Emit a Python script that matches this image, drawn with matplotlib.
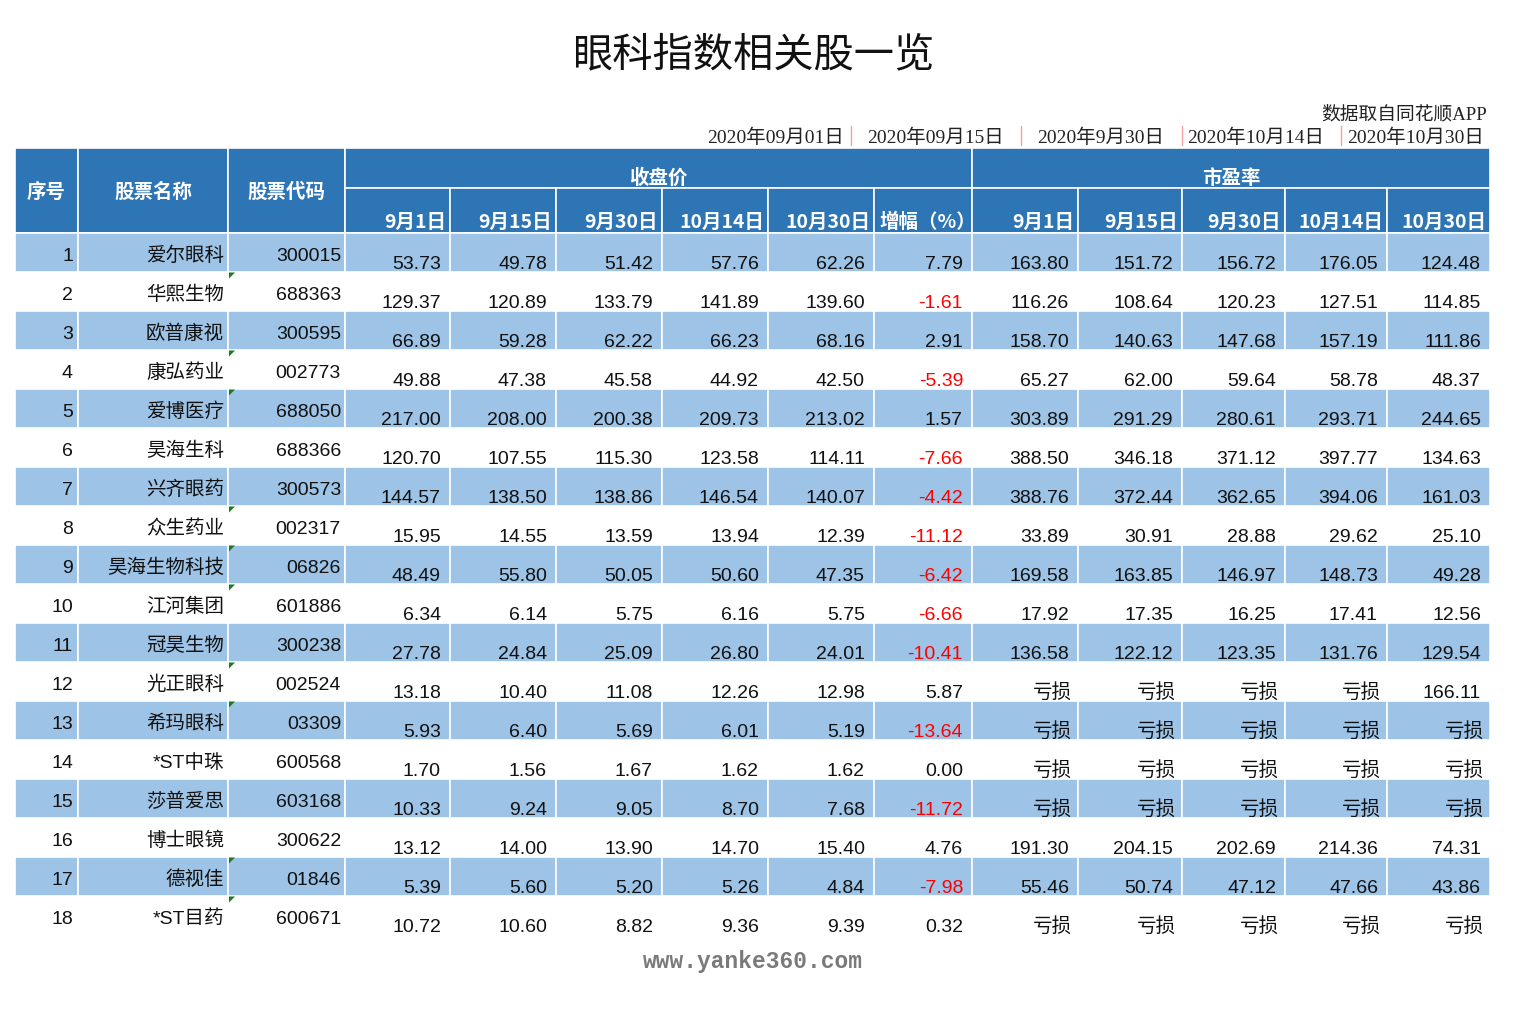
import matplotlib
matplotlib.use("Agg")
import matplotlib.pyplot as plt
from matplotlib.patches import Rectangle, Polygon

# ---- data ----
names = ['爱尔眼科', '华熙生物', '欧普康视', '康弘药业', '爱博医疗', '昊海生科',
         '兴齐眼药', '众生药业', '昊海生物科技', '江河集团', '冠昊生物', '光正眼科',
         '希玛眼科', '*ST中珠', '莎普爱思', '博士眼镜', '德视佳', '*ST目药']
codes = ['300015', '688363', '300595', '002773', '688050', '688366', '300573',
         '002317', '06826', '601886', '300238', '002524', '03309', '600568',
         '603168', '300622', '01846', '600671']

close_0901 = [53.73, 129.37, 66.89, 49.88, 217.00, 120.70, 144.57, 15.95, 48.49,
              6.34, 27.78, 13.18, 5.93, 1.70, 10.33, 13.12, 5.39, 10.72]
close_0915 = [49.78, 120.89, 59.28, 47.38, 208.00, 107.55, 138.50, 14.55, 55.80,
              6.14, 24.84, 10.40, 6.40, 1.56, 9.24, 14.00, 5.60, 10.60]
close_0930 = [51.42, 133.79, 62.22, 45.58, 200.38, 115.30, 138.86, 13.59, 50.05,
              5.75, 25.09, 11.08, 5.69, 1.67, 9.05, 13.90, 5.20, 8.82]
close_1014 = [57.76, 141.89, 66.23, 44.92, 209.73, 123.58, 146.54, 13.94, 50.60,
              6.16, 26.80, 12.26, 6.01, 1.62, 8.70, 14.70, 5.26, 9.36]
close_1030 = [62.26, 139.60, 68.16, 42.50, 213.02, 114.11, 140.07, 12.39, 47.35,
              5.75, 24.01, 12.98, 5.19, 1.62, 7.68, 15.40, 4.84, 9.39]
change_pct = [7.79, -1.61, 2.91, -5.39, 1.57, -7.66, -4.42, -11.12, -6.42,
              -6.66, -10.41, 5.87, -13.64, 0.00, -11.72, 4.76, -7.98, 0.32]

# None = 亏损 (loss)
pe_0901 = [163.80, 116.26, 158.70, 65.27, 303.89, 388.50, 388.76, 33.89, 169.58,
           17.92, 136.58, None, None, None, None, 191.30, 55.46, None]
pe_0915 = [151.72, 108.64, 140.63, 62.00, 291.29, 346.18, 372.44, 30.91, 163.85,
           17.35, 122.12, None, None, None, None, 204.15, 50.74, None]
pe_0930 = [156.72, 120.23, 147.68, 59.64, 280.61, 371.12, 362.65, 28.88, 146.97,
           16.25, 123.35, None, None, None, None, 202.69, 47.12, None]
pe_1014 = [176.05, 127.51, 157.19, 58.78, 293.71, 397.77, 394.06, 29.62, 148.73,
           17.41, 131.76, None, None, None, None, 214.36, 47.66, None]
pe_1030 = [124.48, 114.85, 111.86, 48.37, 244.65, 134.63, 161.03, 25.10, 49.28,
           12.56, 129.54, 166.11, None, None, None, 74.31, 43.86, None]

sub_headers = ['9月1日', '9月15日', '9月30日', '10月14日', '10月30日', '增幅（%）',
               '9月1日', '9月15日', '9月30日', '10月14日', '10月30日']
date_labels = ['2020年09月01日', '2020年09月15日', '2020年9月30日',
               '2020年10月14日', '2020年10月30日']
text_flag_rows = [2, 4, 5, 8, 9, 10, 12, 13, 17, 18]

# ---- style ----
HEAD = '#2E75B6'
STRIPE = '#9DC3E6'
TXT = '#111111'
NUM_FONT = ['Liberation Sans', 'Noto Sans CJK SC', 'DejaVu Sans']
CJK_FONT = ['Noto Sans CJK SC', 'DejaVu Sans']
SERIF_FONT = ['Liberation Serif', 'Noto Sans CJK SC', 'DejaVu Sans']

col_x = [15, 78, 228, 345, 450, 556, 662, 768, 874, 972, 1078, 1182, 1285, 1387, 1490]
head_top, head_mid, head_bot = 148, 188, 233
row_h = 39

fig = plt.figure(figsize=(15.13, 10.11), dpi=100)
ax = fig.add_axes([0, 0, 1, 1])
ax.set_xlim(0, 1513)
ax.set_ylim(1011, 0)
ax.axis('off')

# title and notes
ax.text(753, 66, '眼科指数相关股一览', ha='center', va='baseline', fontsize=29,
        family=CJK_FONT, color='#111111')
ax.text(1487, 119, '数据取自同花顺APP', ha='right', va='baseline', fontsize=13.5,
        family=SERIF_FONT, color='#222222')
date_mid = [776, 935, 1101, 1256, 1416]
for dx, lab in zip(date_mid, date_labels):
    ax.text(dx, 143, lab, ha='center', va='baseline', fontsize=14,
            family=SERIF_FONT, color='#222222')
for sx in [851, 1021, 1182, 1341]:
    ax.plot([sx, sx], [126, 145], color='#F2A0A0', lw=1)


def cell(x0, x1, y0, y1, fc):
    ax.add_patch(Rectangle((x0, y0), x1 - x0, y1 - y0, facecolor=fc,
                           edgecolor='white', lw=1.2))


# header
cell(col_x[0], col_x[1], head_top, head_bot, HEAD)
cell(col_x[1], col_x[2], head_top, head_bot, HEAD)
cell(col_x[2], col_x[3], head_top, head_bot, HEAD)
cell(col_x[3], col_x[9], head_top, head_mid, HEAD)
cell(col_x[9], col_x[14], head_top, head_mid, HEAD)
for j in range(3, 14):
    cell(col_x[j], col_x[j + 1], head_mid, head_bot, HEAD)

hkw = dict(color='white', fontsize=14, fontweight='bold', family=CJK_FONT, va='baseline')
for j, lab in enumerate(['序号', '股票名称', '股票代码']):
    ax.text((col_x[j] + col_x[j + 1]) / 2, 198, lab, ha='center', **hkw)
ax.text((col_x[3] + col_x[9]) / 2, 184, '收盘价', ha='center', **hkw)
ax.text((col_x[9] + col_x[14]) / 2, 184, '市盈率', ha='center', **hkw)
for j, lab in enumerate(sub_headers):
    if lab.startswith('增幅'):
        ax.text(col_x[3 + j] + 5, 228, lab, ha='left', **hkw)
    else:
        ax.text(col_x[4 + j] - 4, 228, lab, ha='right', **hkw)

# body
value_cols = [close_0901, close_0915, close_0930, close_1014, close_1030, change_pct,
              pe_0901, pe_0915, pe_0930, pe_1014, pe_1030]
for i in range(len(names)):
    top = head_bot + i * row_h
    bot = top + row_h
    if i % 2 == 0:
        for j in range(14):
            cell(col_x[j], col_x[j + 1], top, bot, STRIPE)
    ax.text(col_x[1] - 5, top + 28, str(i + 1), ha='right', va='baseline',
            fontsize=14, family=NUM_FONT, color=TXT)
    ax.text(col_x[2] - 4, top + 28, names[i], ha='right', va='baseline',
            fontsize=14, family=NUM_FONT, color=TXT)
    ax.text(col_x[3] - 4, top + 28, codes[i], ha='right', va='baseline',
            fontsize=14, family=NUM_FONT, color=TXT)
    for k, series in enumerate(value_cols):
        v = series[i]
        xr = col_x[4 + k] - 9
        if v is None:
            ax.text(xr + 3, top + 36, '亏损', ha='right', va='baseline',
                    fontsize=14, family=CJK_FONT, color=TXT)
            continue
        color = TXT
        if series is change_pct and v < 0:
            color = '#FF0000'
        ax.text(xr, top + 36, f'{v:.2f}', ha='right', va='baseline',
                fontsize=14, family=NUM_FONT, color=color)
    if (i + 1) in text_flag_rows:
        x0 = col_x[2] + 1
        ax.add_patch(Polygon([(x0, top + 0.5), (x0 + 6, top + 0.5), (x0, top + 6.5)],
                             closed=True, facecolor='#1E7B1E', edgecolor='none'))

# watermark
ax.text(753, 968, 'www.yanke360.com', ha='center', va='baseline', fontsize=16.5,
        family=['Liberation Mono', 'DejaVu Sans Mono'], color='#7A7A7A',
        fontweight='bold')

fig.savefig('out.png', dpi=100)
